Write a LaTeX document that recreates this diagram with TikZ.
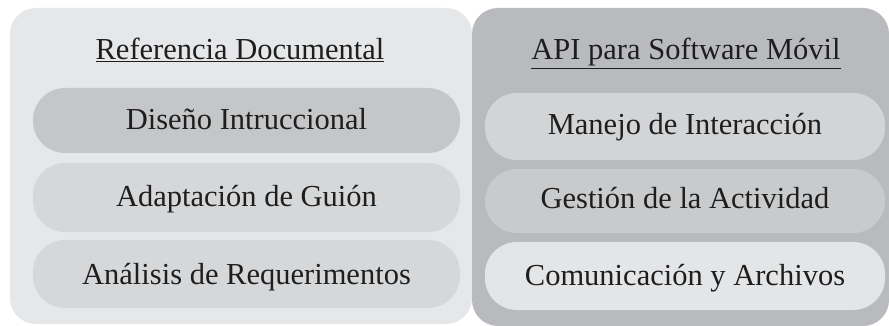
\documentclass[tikz,border=0pt]{standalone}
\usepackage{fontspec}
\setmainfont{Liberation Serif}
\begin{document}
\begin{tikzpicture}[x=1pt,y=-1pt,
  panel/.style={rectangle,rounded corners=26pt,inner sep=0pt},
  pill/.style={rectangle,rounded corners=32pt,inner sep=0pt,minimum height=66pt},
  lbl/.style={inner sep=0pt,anchor=base,font=\fontsize{30.5}{34}\selectfont,text=txt}]
\definecolor{lpanel}{HTML}{E6E7E9}
\definecolor{rpanel}{HTML}{B9BABD}
\definecolor{pdark}{HTML}{C5C6C8}
\definecolor{pmid}{HTML}{D6D7D9}
\definecolor{rlight}{HTML}{D3D4D6}
\definecolor{rmid}{HTML}{C9CACC}
\definecolor{rpale}{HTML}{E4E5E7}
\definecolor{txt}{HTML}{1E1E1E}
\useasboundingbox[fill=white] (0,0) rectangle (889,326);
% panels
\node[panel,fill=lpanel,minimum width=462pt,minimum height=316pt] (left) at (241,166) {};
\node[panel,fill=rpanel,minimum width=417pt,minimum height=318pt] (right) at (680.5,167) {};
% headings
\node[lbl] (h1) at (240,60) {\underline{Referencia Documental}};
\node[lbl] (h2) at (686,60) {\underline{API para Software Móvil}};
% left pills
\node[pill,fill=pdark,minimum width=427pt,minimum height=65pt] (l1) at (246.5,120.5) {};
\node[pill,fill=pmid,minimum width=427pt,minimum height=69pt] (l2) at (246.5,197.5) {};
\node[pill,fill=pmid,minimum width=427pt,minimum height=68pt] (l3) at (246.5,274) {};
\node[lbl] (t1) at (l1.center |- 0,130) {Diseño Intruccional};
\node[lbl] (t2) at (l2.center |- 0,206) {Adaptación de Guión};
\node[lbl] (t3) at (l3.center |- 0,284) {Análisis de Requerimentos};
% right pills
\node[pill,fill=rlight,minimum width=400pt,minimum height=67pt] (r1) at (685,126.5) {};
\node[pill,fill=rmid,minimum width=400pt,minimum height=64pt] (r2) at (685,201) {};
\node[pill,fill=rpale,minimum width=400pt,minimum height=68pt] (r3) at (685,276) {};
\node[lbl] (u1) at (r1.center |- 0,135) {Manejo de Interacción};
\node[lbl] (u2) at (r2.center |- 0,208) {Gestión de la Actividad};
\node[lbl] (u3) at (r3.center |- 0,285) {Comunicación y Archivos};
\end{tikzpicture}
\end{document}
